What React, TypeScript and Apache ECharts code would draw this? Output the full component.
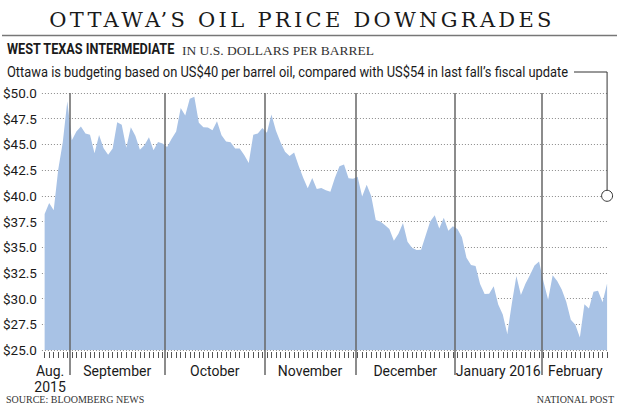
import React, { useEffect, useRef } from 'react';
import * as echarts from 'echarts';

// WTI daily close, US$ per barrel (trading days)
const aug2015 = [38.24, 39.31, 38.6, 42.56, 45.22, 49.2];
const sep2015 = [45.41, 46.25, 46.75, 46.05, 45.94, 44.15, 45.92, 44.63, 44.0, 44.59, 47.15, 46.9, 44.68, 46.68, 45.83, 44.48, 44.91, 45.7, 44.43, 45.23, 45.09];
const oct2015 = [44.74, 45.54, 46.26, 48.53, 47.81, 49.43, 49.63, 47.1, 46.66, 46.64, 46.38, 47.26, 45.89, 45.29, 45.2, 44.6, 44.6, 43.98, 43.2, 45.94, 46.06, 46.59];
const nov2015 = [46.14, 47.9, 46.32, 45.2, 44.29, 43.87, 44.21, 42.93, 41.75, 40.74, 41.74, 40.67, 40.75, 40.54, 40.39, 41.75, 42.87, 43.04, 41.71, 41.65];
const dec2015 = [41.85, 39.94, 41.08, 39.97, 37.65, 37.51, 37.16, 36.76, 35.62, 36.31, 37.35, 35.52, 34.95, 34.73, 34.74, 36.14, 37.5, 38.1, 36.81, 37.87, 36.6, 37.04];
const jan2016 = [36.76, 35.97, 33.97, 33.27, 33.16, 31.41, 30.44, 30.48, 31.2, 29.42, 28.46, 26.55, 29.53, 32.19, 30.34, 31.45, 32.3, 33.22, 33.62];
const feb2016 = [31.62, 29.88, 32.28, 31.72, 30.89, 29.69, 27.94, 27.45, 26.21, 29.44, 29.04, 30.66, 30.77, 29.64, 31.48];

const monthLabels = ['Aug.\n2015', 'September', 'October', 'November', 'December', 'January 2016', 'February'];
const monthSeries = [aug2015, sep2015, oct2015, nov2015, dec2015, jan2016, feb2016];

const yMin = 25;
const yMax = 50;
const yStep = 2.5;
const budgetPrice = 40;

const titleText = 'OTTAWA\u2019S OIL PRICE DOWNGRADES';
const subtitleBold = 'WEST TEXAS INTERMEDIATE';
const subtitleUnit = 'IN U.S. DOLLARS PER BARREL';
const annotationText = 'Ottawa is budgeting based on US$40 per barrel oil, compared with US$54 in last fall\u2019s fiscal update';
const sourceText = 'SOURCE: BLOOMBERG NEWS';
const creditText = 'NATIONAL POST';

const SANS = 'Roboto, "Liberation Sans", sans-serif';
const SERIF = '"Liberation Serif", serif';
const TITLE_SERIF = '"DejaVu Serif", serif';

function measure(text: string, font: string, fallback: number) {
  try {
    const ctx = document.createElement('canvas').getContext('2d');
    if (ctx) {
      ctx.font = font;
      return ctx.measureText(text).width;
    }
  } catch (e) {}
  return fallback;
}

export default function App() {
  const ref = useRef<HTMLDivElement>(null);

  useEffect(() => {
    if (!ref.current) return;
    const chart = echarts.init(ref.current, undefined, { renderer: 'svg' });

    const data: number[][] = [];
    const boundaries: number[] = [];
    const labelPos: number[] = [];
    let idx = 0;
    monthSeries.forEach((arr, m) => {
      const start = idx;
      if (m > 0) boundaries.push(start - 0.5);
      arr.forEach((v) => {
        data.push([idx, v]);
        idx += 1;
      });
      const end = idx - 1;
      labelPos.push(m === 0 ? (start + end) / 2 - 1.3 : (start + end) / 2);
    });
    const N = idx;
    const dayTicks = data.map((d) => d[0]);
    const labelFor = (v: number) => {
      const i = labelPos.findIndex((p) => Math.abs(p - v) < 1e-6);
      return i >= 0 ? monthLabels[i] : '';
    };

    const xMin = -0.6;
    const xMax = N - 1 + 0.2;

    const option: any = {
      animation: false,
      backgroundColor: '#ffffff',
      grid: { left: 40, right: 12, top: 93, bottom: 57 },
      xAxis: [
        {
          type: 'value',
          min: xMin,
          max: xMax,
          position: 'bottom',
          offset: 2,
          axisLine: { show: false },
          axisTick: { show: true, customValues: dayTicks, length: 6, lineStyle: { color: '#555', width: 1 } },
          axisLabel: {
            show: true,
            customValues: labelPos,
            formatter: (v: number) => labelFor(v),
            margin: 11,
            color: '#1a1a1a',
            fontFamily: SANS,
            fontSize: 14,
            lineHeight: 16,
            align: 'center',
          },
          splitLine: { show: false },
        },
        {
          type: 'value',
          min: xMin,
          max: xMax,
          position: 'bottom',
          z: 5,
          axisLine: { show: false },
          axisTick: { show: true, customValues: boundaries, length: 25, lineStyle: { color: '#666', width: 1.5 } },
          axisLabel: { show: false },
          splitLine: { show: true, lineStyle: { color: '#666', width: 1.5 } },
        },
      ],
      yAxis: {
        type: 'value',
        min: yMin,
        max: yMax,
        interval: yStep,
        axisLine: { show: false },
        axisTick: { show: false },
        axisLabel: {
          formatter: (v: number) => '$' + v.toFixed(1),
          margin: 5,
          color: '#1a1a1a',
          fontFamily: SANS,
          fontSize: 13.5,
        },
        splitLine: { show: true, lineStyle: { type: [1, 2], color: '#8a8a8a', width: 1 } },
      },
      series: [
        {
          type: 'line',
          xAxisIndex: 0,
          yAxisIndex: 0,
          data,
          symbol: 'none',
          lineStyle: { width: 0 },
          areaStyle: { color: '#a8c2e5', opacity: 1, origin: 'start' },
          z: 1,
          markPoint: {
            symbol: 'circle',
            symbolSize: 11,
            silent: true,
            label: { show: false },
            itemStyle: { color: '#ffffff', borderColor: '#333333', borderWidth: 1 },
            data: [{ coord: [N - 1, budgetPrice] }],
          },
        },
      ],
    };
    chart.setOption(option);

    const p = chart.convertToPixel({ xAxisIndex: 0, yAxisIndex: 0 }, [N - 1, budgetPrice]) as number[];

    const annFont = `14px ${SANS}`;
    const annRaw = measure(annotationText, annFont, 600);
    const annScale = Math.min(1, 562 / annRaw);
    const annX = 7;
    const annY = 72;
    const annEnd = annX + annRaw * annScale;

    const boldFont = `bold 14px ${SANS}`;
    const boldRaw = measure(subtitleBold, boldFont, 185);
    const boldScale = Math.min(1, 168 / boldRaw);
    const boldEnd = 7 + boldRaw * boldScale;

    chart.setOption({
      graphic: [
        {
          type: 'text',
          x: 302,
          y: 20,
          style: {
            text: titleText,
            fill: '#1a1a1a',
            font: `21px ${TITLE_SERIF}`,
            textAlign: 'center',
            textVerticalAlign: 'middle',
          },
        },
        {
          type: 'line',
          shape: { x1: 2, y1: 35.5, x2: 617, y2: 35.5 },
          style: { stroke: '#777', lineWidth: 1.5 },
        },
        {
          type: 'text',
          x: 7,
          y: 49,
          scaleX: boldScale,
          style: { text: subtitleBold, fill: '#1a1a1a', font: boldFont, textVerticalAlign: 'middle' },
        },
        {
          type: 'text',
          x: boldEnd + 7,
          y: 50,
          style: { text: subtitleUnit, fill: '#333', font: `13.5px ${SERIF}`, textVerticalAlign: 'middle' },
        },
        {
          type: 'text',
          x: annX,
          y: annY,
          scaleX: annScale,
          style: { text: annotationText, fill: '#1a1a1a', font: annFont, textVerticalAlign: 'middle' },
        },
        {
          type: 'polyline',
          shape: {
            points: [
              [annEnd + 5, annY],
              [p[0], annY],
              [p[0], p[1] - 5.5],
            ],
          },
          style: { stroke: '#333', lineWidth: 1, fill: 'none' },
        },
        {
          type: 'text',
          x: 6,
          y: 399,
          style: { text: sourceText, fill: '#333', font: `10px ${SERIF}`, textVerticalAlign: 'middle' },
        },
        {
          type: 'text',
          x: 614,
          y: 399,
          style: { text: creditText, fill: '#333', font: `10px ${SERIF}`, textAlign: 'right', textVerticalAlign: 'middle' },
        },
      ],
    });

    return () => chart.dispose();
  }, []);

  return (
    <>
      <style>{`#oilchart svg text[style*="DejaVu Serif"] { letter-spacing: 3.3px; }`}</style>
      <div id="oilchart" ref={ref} style={{ width: 620, height: 407, position: 'absolute', left: 0, top: 0 }} />
    </>
  );
}
